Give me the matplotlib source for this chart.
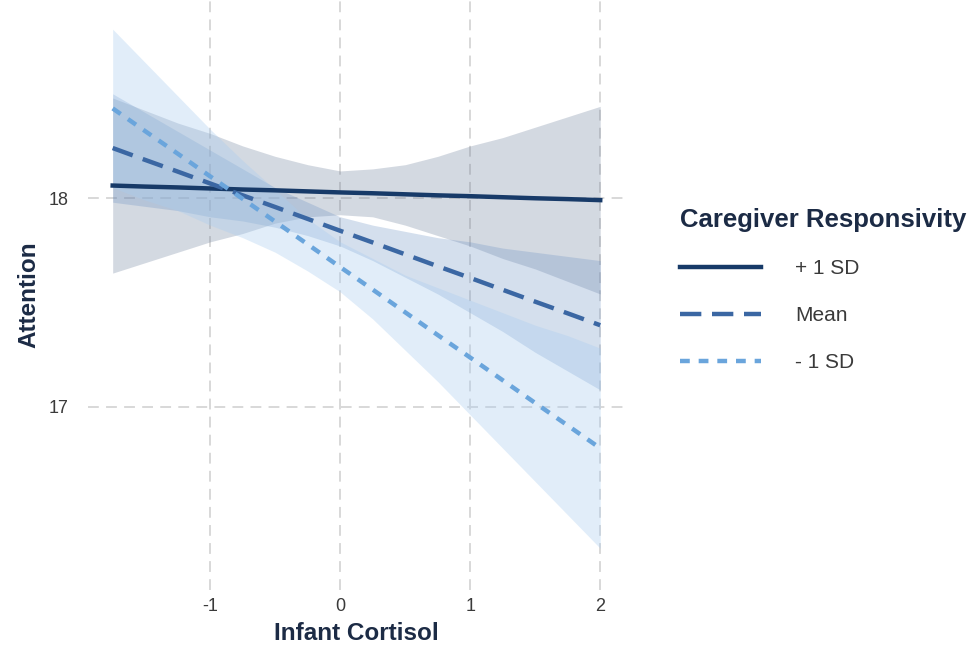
import numpy as np
import matplotlib
matplotlib.use("Agg")
import matplotlib.pyplot as plt
from matplotlib.lines import Line2D

plt.rcParams['font.family'] = ['Liberation Sans', 'DejaVu Sans']

# Infant cortisol values the lines and bands were read at
cortisol = [-1.75, -1.5, -1.25, -1.0, -0.75, -0.5, -0.25, 0.0,
            0.25, 0.5, 0.75, 1.0, 1.25, 1.5, 1.75, 2.0]

# +1 SD caregiver responsivity
hi_fit = [18.06, 18.055, 18.051, 18.046, 18.041, 18.037, 18.032, 18.027,
          18.023, 18.018, 18.013, 18.009, 18.004, 17.999, 17.995, 17.99]
hi_upper = [18.48, 18.42, 18.36, 18.31, 18.25, 18.20, 18.16, 18.13,
            18.14, 18.16, 18.20, 18.25, 18.29, 18.34, 18.39, 18.44]
hi_lower = [17.64, 17.69, 17.74, 17.79, 17.83, 17.88, 17.91, 17.92,
            17.91, 17.87, 17.82, 17.77, 17.71, 17.66, 17.60, 17.54]

# Mean caregiver responsivity
mean_fit = [18.24, 18.183, 18.127, 18.07, 18.013, 17.957, 17.90, 17.843,
            17.787, 17.73, 17.673, 17.617, 17.56, 17.503, 17.447, 17.39]
mean_upper = [18.50, 18.41, 18.32, 18.23, 18.14, 18.05, 17.98, 17.91,
              17.87, 17.84, 17.81, 17.79, 17.76, 17.74, 17.72, 17.70]
mean_lower = [17.98, 17.96, 17.94, 17.91, 17.89, 17.86, 17.82, 17.77,
              17.70, 17.62, 17.54, 17.45, 17.36, 17.26, 17.17, 17.08]

# -1 SD caregiver responsivity
lo_fit = [18.43, 18.321, 18.213, 18.104, 17.996, 17.887, 17.778, 17.669,
          17.561, 17.452, 17.343, 17.235, 17.126, 17.017, 16.909, 16.80]
lo_upper = [18.81, 18.65, 18.49, 18.33, 18.18, 18.04, 17.90, 17.79,
            17.71, 17.63, 17.57, 17.51, 17.45, 17.39, 17.34, 17.28]
lo_lower = [18.05, 17.99, 17.94, 17.87, 17.81, 17.74, 17.65, 17.55,
            17.42, 17.27, 17.12, 16.96, 16.80, 16.64, 16.48, 16.32]

groups = ["+ 1 SD", "Mean", "- 1 SD"]
line_cols = ["#173a68", "#3b67a3", "#6aa5dc"]
band_cols = ["#5f7391", "#7195c6", "#a9cdf0"]
band_alpha = [0.27, 0.3, 0.35]
styles = ["-", (0, (4.8, 2.4)), (0, (2.2, 2.0))]

fig = plt.figure(figsize=(9.71, 6.51), dpi=100)
ax = fig.add_axes([0.0906, 0.0937, 0.553, 0.9063])

x = np.array(cortisol)
bands = [(hi_lower, hi_upper), (mean_lower, mean_upper), (lo_lower, lo_upper)]
fits = [hi_fit, mean_fit, lo_fit]

for i in range(3):
    ax.fill_between(x, bands[i][0], bands[i][1], color=band_cols[i],
                    alpha=band_alpha[i], linewidth=0, zorder=2)
for i in range(3):
    ax.plot(x, fits[i], color=line_cols[i], linestyle=styles[i], lw=3.2,
            zorder=3)

ax.set_xlim(-1.94, 2.19)
ax.set_ylim(16.12, 18.95)
ax.set_xticks([-1, 0, 1, 2])
ax.set_xticklabels(["-1", "0", "1", "2"])
ax.set_yticks([17, 18])
ax.grid(True, color="#d6d6d6", linestyle=(0, (6, 4)), linewidth=1.3, zorder=0)
ax.set_axisbelow(True)
for s in ax.spines.values():
    s.set_visible(False)
ax.tick_params(length=0, labelsize=13, labelcolor="#3a3a3a")
ax.tick_params(axis="x", pad=6)
ax.tick_params(axis="y", pad=14)

ax.set_xlabel("Infant Cortisol", fontsize=17.5, fontweight="bold",
              color="#1c2b45", labelpad=5)
ax.set_ylabel("Attention", fontsize=17.5, fontweight="bold",
              color="#1c2b45", labelpad=6)

handles = [Line2D([0], [0], color=line_cols[i], linestyle=styles[i], lw=3.2)
           for i in range(3)]
leg = fig.legend(handles, groups, title="Caregiver Responsivity",
                 loc="upper left", bbox_to_anchor=(0.700, 0.681),
                 frameon=False, fontsize=15, handlelength=3.9,
                 handletextpad=1.65, labelspacing=1.33, borderaxespad=0,
                 borderpad=0)
leg.get_title().set_fontsize(18.5)
leg.get_title().set_fontweight("bold")
leg.get_title().set_color("#1c2b45")
leg._legend_box.align = "left"
for t in leg.get_texts():
    t.set_color("#3a3a3a")

fig.savefig("out.png", dpi=100)
